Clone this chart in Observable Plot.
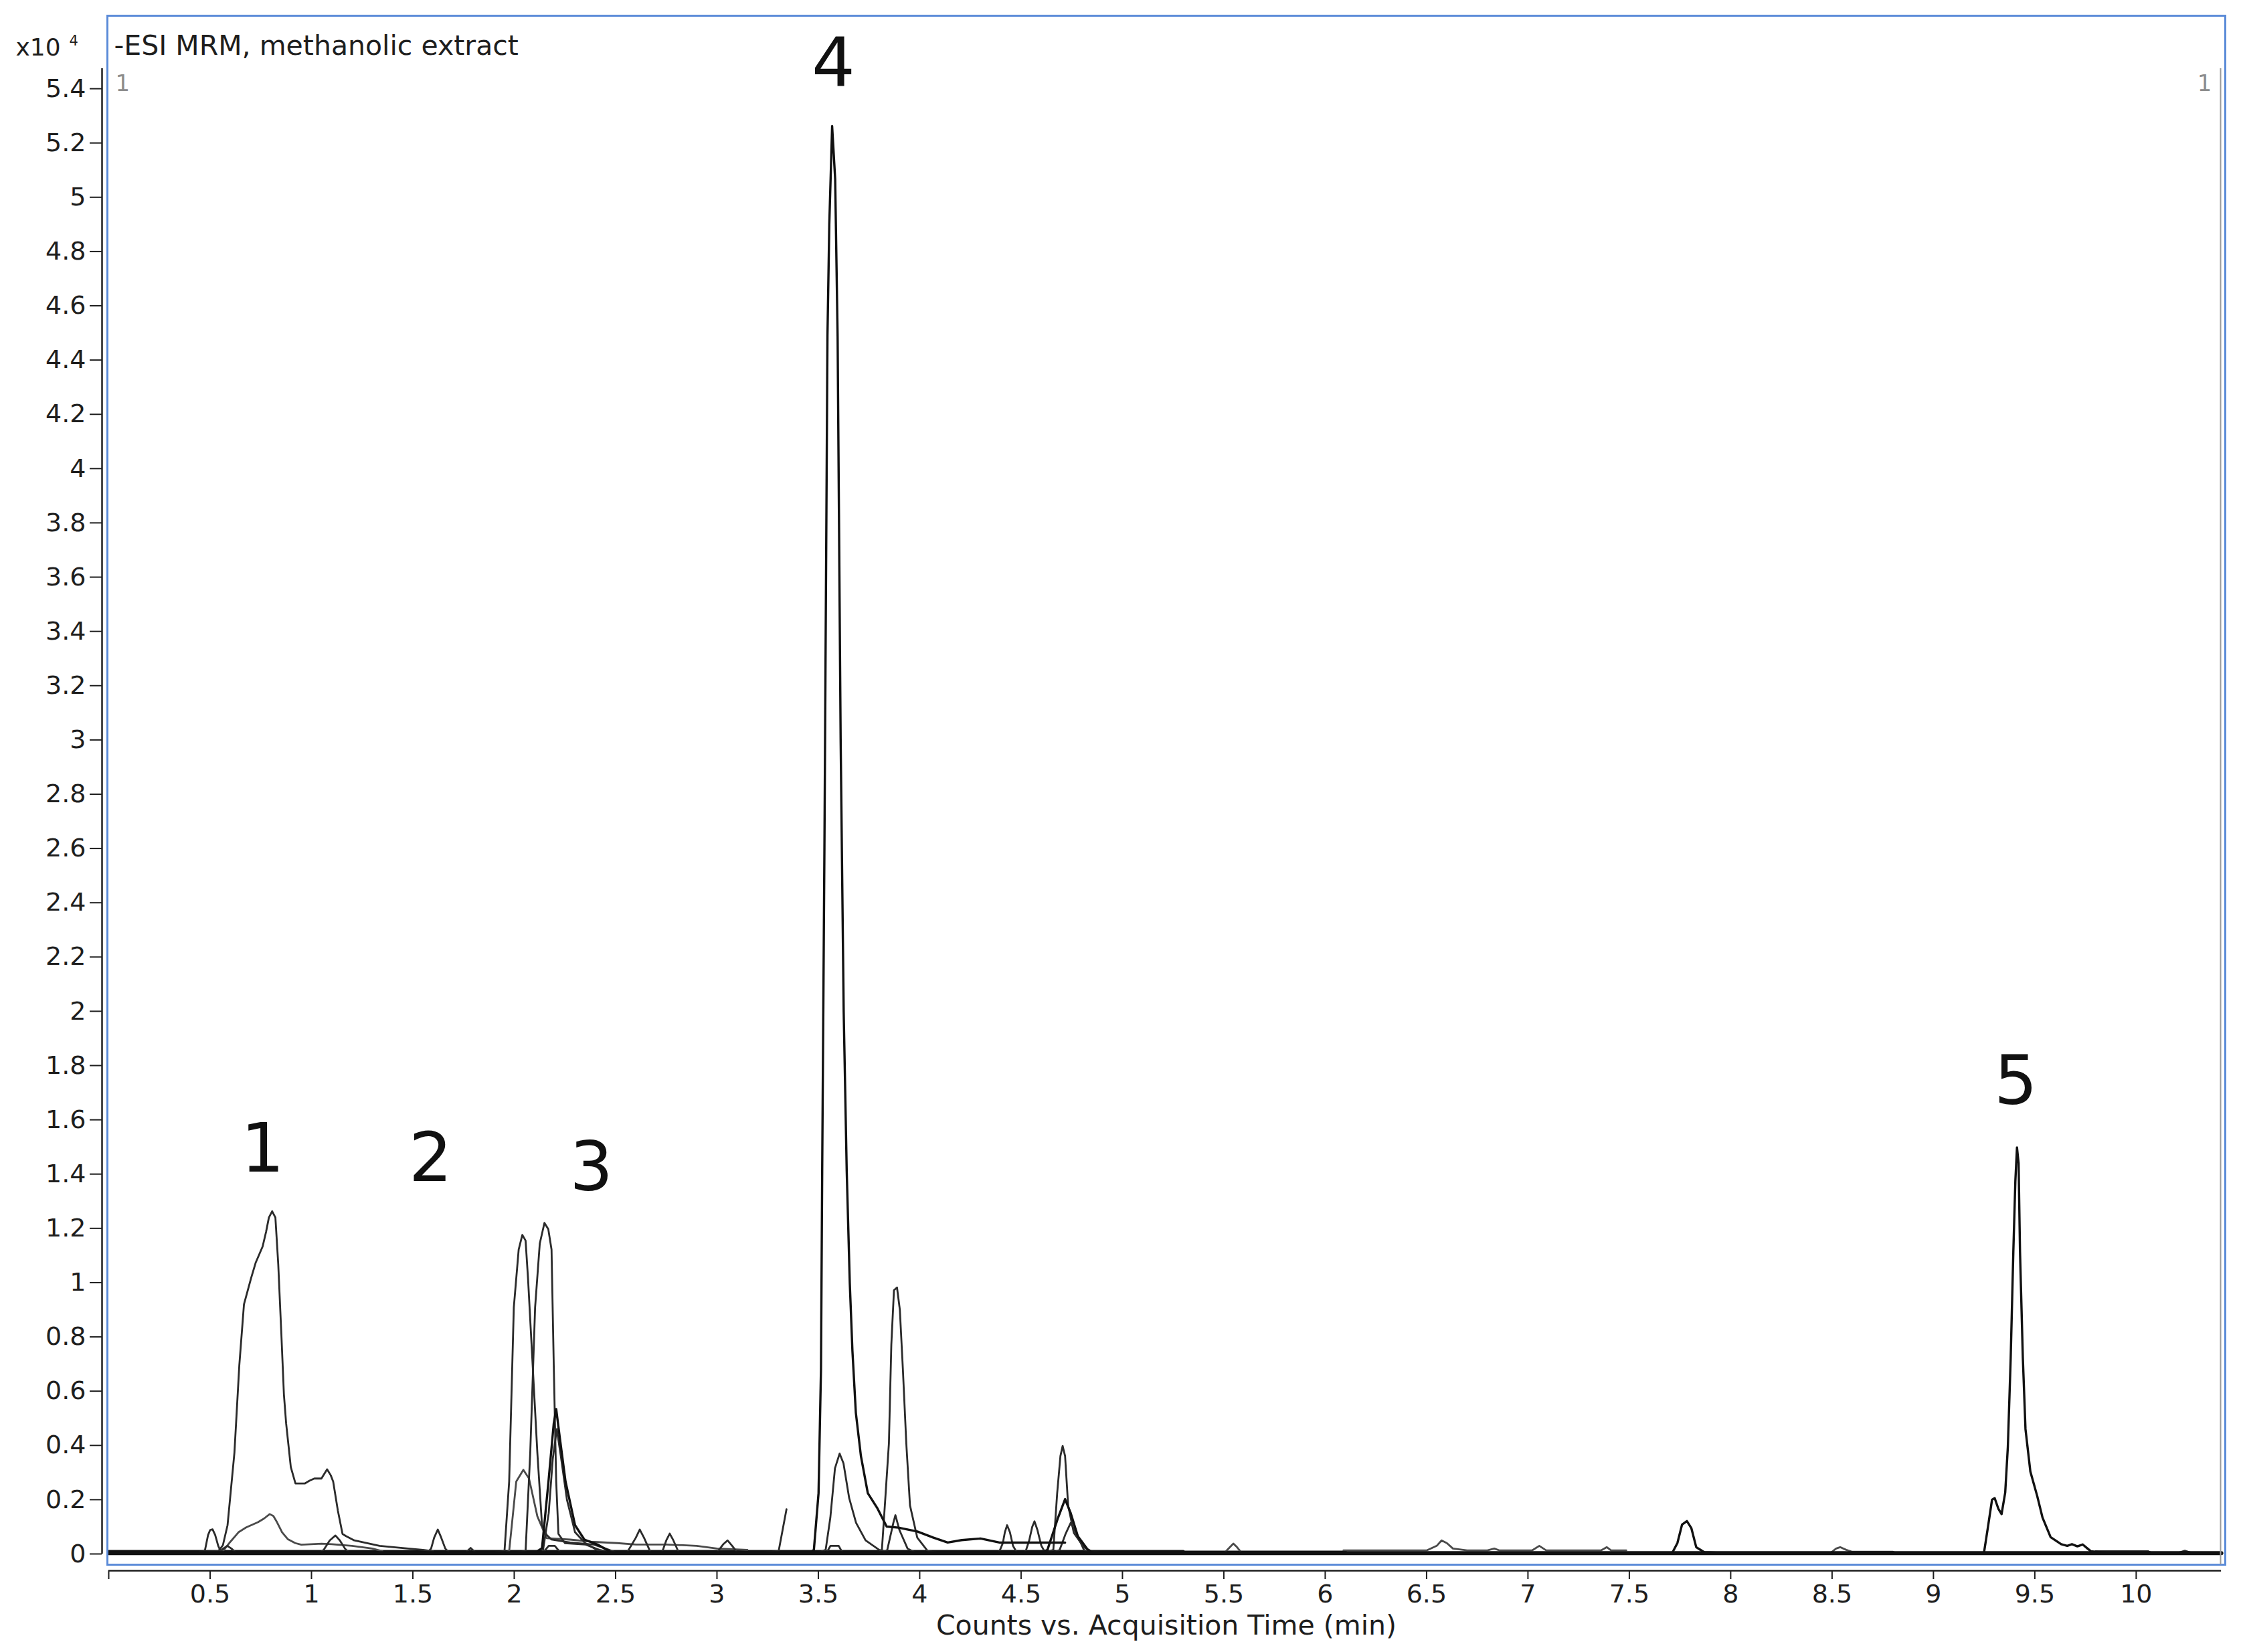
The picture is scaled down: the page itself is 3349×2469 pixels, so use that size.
<!DOCTYPE html>
<html>
<head>
<meta charset="utf-8">
<script src="https://cdn.jsdelivr.net/npm/d3@7"></script>
<script src="https://cdn.jsdelivr.net/npm/@observablehq/plot@0.6"></script>
<style>
  html, body { margin: 0; padding: 0; background: #fff; }
  #chart { position: absolute; left: 0; top: 0; }
</style>
</head>
<body>
<div id="chart"></div>
<script>
// ---------- tick values and labels ----------
const xTicks = [0, 0.5, 1, 1.5, 2, 2.5, 3, 3.5, 4, 4.5, 5, 5.5, 6, 6.5, 7, 7.5, 8, 8.5, 9, 9.5, 10];
const xTickLabels = ["", "0.5", "1", "1.5", "2", "2.5", "3", "3.5", "4", "4.5", "5", "5.5", "6", "6.5", "7", "7.5", "8", "8.5", "9", "9.5", "10"];
const yTicks = [0, 0.2, 0.4, 0.6, 0.8, 1, 1.2, 1.4, 1.6, 1.8, 2, 2.2, 2.4, 2.6, 2.8, 3, 3.2, 3.4, 3.6, 3.8, 4, 4.2, 4.4, 4.6, 4.8, 5, 5.2, 5.4];
const yTickLabels = ["0", "0.2", "0.4", "0.6", "0.8", "1", "1.2", "1.4", "1.6", "1.8", "2", "2.2", "2.4", "2.6", "2.8", "3", "3.2", "3.4", "3.6", "3.8", "4", "4.2", "4.4", "4.6", "4.8", "5", "5.2", "5.4"];

// ---------- texts ----------
const titleText = ["-ESI MRM, methanolic extract"];
const xAxisTitle = ["Counts vs. Acquisition Time (min)"];
const yUnitText = ["x10"];
const yUnitExp = ["4"];
const peakLabelText = ["1", "2", "3", "4", "5"];
const peakLabelX = [0.759, 1.587, 2.38, 3.574, 9.406];
const peakLabelY = [1.489, 1.455, 1.42, 5.489, 1.738];

// ---------- traces: [time (min), counts (x10^4)] ----------
const baseMain = [[0, 0.003], [10.42, 0.003]];
const baseA = [[0, 0.009], [5.3, 0.009]];
const baseB = [[5.3, 0.007], [6.1, 0.007]];
const baseC = [[6.09, 0.013], [6.5, 0.013], [6.55, 0.03], [6.574, 0.05], [6.6, 0.04], [6.63, 0.02], [6.7, 0.013], [6.8, 0.013], [6.834, 0.02], [6.86, 0.013], [7.02, 0.013], [7.056, 0.03], [7.09, 0.013], [7.36, 0.013], [7.389, 0.025], [7.41, 0.013], [7.485, 0.013]];
const baseD = [[9.8, 0.01], [10.06, 0.01], [10.08, 0.002], [10.2, 0.002], [10.24, 0.012], [10.28, 0.002], [10.42, 0.002]];

const peak1Main = [[0.45, 0.008], [0.54, 0.01], [0.563, 0.032], [0.586, 0.106], [0.62, 0.374], [0.644, 0.695], [0.667, 0.92], [0.702, 1.016], [0.725, 1.074], [0.759, 1.133], [0.776, 1.187], [0.79, 1.24], [0.806, 1.263], [0.822, 1.24], [0.836, 1.069], [0.852, 0.8], [0.864, 0.588], [0.875, 0.481], [0.898, 0.32], [0.921, 0.26], [0.968, 0.26], [0.99, 0.27], [1.014, 0.278], [1.049, 0.278], [1.077, 0.312], [1.095, 0.29], [1.107, 0.267], [1.13, 0.16], [1.153, 0.074], [1.17, 0.066], [1.211, 0.05], [1.336, 0.03], [1.45, 0.022], [1.55, 0.015], [1.6, 0.01]];
const peak1Minor = [[0.5, 0.005], [0.565, 0.012], [0.6, 0.045], [0.64, 0.08], [0.678, 0.098], [0.708, 0.108], [0.736, 0.117], [0.765, 0.13], [0.794, 0.147], [0.812, 0.14], [0.83, 0.117], [0.855, 0.08], [0.884, 0.054], [0.92, 0.04], [0.95, 0.034], [1.0, 0.036], [1.05, 0.038], [1.1, 0.036], [1.2, 0.03], [1.3, 0.02], [1.35, 0.01]];
const bump051 = [[0.46, 0.005], [0.475, 0.015], [0.49, 0.07], [0.5, 0.088], [0.512, 0.091], [0.525, 0.07], [0.54, 0.03], [0.551, 0.012], [0.57, 0.005]];
const bump058 = [[0.54, 0.003], [0.565, 0.02], [0.585, 0.03], [0.605, 0.02], [0.63, 0.003]];
const bump112 = [[1.04, 0.004], [1.06, 0.015], [1.09, 0.05], [1.118, 0.068], [1.14, 0.05], [1.165, 0.02], [1.185, 0.005]];
const bump162 = [[1.57, 0.004], [1.59, 0.02], [1.605, 0.06], [1.623, 0.09], [1.64, 0.06], [1.66, 0.02], [1.68, 0.004]];
const bump179 = [[1.76, 0.004], [1.785, 0.022], [1.81, 0.004]];

const peak204 = [[1.9, 0.005], [1.952, 0.01], [1.975, 0.267], [1.998, 0.909], [2.022, 1.122], [2.04, 1.176], [2.056, 1.155], [2.068, 1.016], [2.091, 0.695], [2.114, 0.374], [2.137, 0.106], [2.16, 0.07], [2.184, 0.053], [2.276, 0.042], [2.39, 0.035], [2.45, 0.02], [2.5, 0.006]];
const peak215 = [[2.0, 0.004], [2.056, 0.01], [2.079, 0.374], [2.103, 0.909], [2.126, 1.144], [2.149, 1.22], [2.168, 1.197], [2.184, 1.122], [2.195, 0.695], [2.207, 0.267], [2.218, 0.074], [2.25, 0.04], [2.35, 0.035], [2.42, 0.015], [2.48, 0.005]];
const peak221a = [[2.1, 0.004], [2.137, 0.021], [2.169, 0.267], [2.195, 0.481], [2.207, 0.534], [2.225, 0.427], [2.253, 0.267], [2.3, 0.106], [2.346, 0.053], [2.41, 0.035], [2.47, 0.01]];
const peak221b = [[2.14, 0.004], [2.17, 0.15], [2.19, 0.35], [2.21, 0.46], [2.23, 0.36], [2.26, 0.2], [2.3, 0.08], [2.35, 0.04], [2.42, 0.01]];
const peak205s = [[1.95, 0.004], [1.975, 0.01], [1.99, 0.12], [2.01, 0.267], [2.045, 0.31], [2.073, 0.278], [2.114, 0.139], [2.16, 0.058], [2.276, 0.053], [2.38, 0.045], [2.508, 0.04], [2.6, 0.035], [2.75, 0.035], [2.9, 0.03], [3.0, 0.02], [3.15, 0.015]];
const bump218 = [[2.14, 0.003], [2.17, 0.03], [2.2, 0.03], [2.23, 0.003]];
const bump262 = [[2.56, 0.01], [2.6, 0.06], [2.619, 0.09], [2.64, 0.06], [2.67, 0.01]];
const bump277 = [[2.73, 0.008], [2.75, 0.05], [2.767, 0.075], [2.785, 0.05], [2.81, 0.008]];
const bump305 = [[3.0, 0.005], [3.03, 0.035], [3.052, 0.05], [3.075, 0.03], [3.1, 0.005]];
const spike334 = [[3.2, 0.003], [3.304, 0.01], [3.343, 0.165]];

const peak4Main = [[3.3, 0.003], [3.46, 0.005], [3.478, 0.015], [3.501, 0.224], [3.513, 0.68], [3.519, 1.41], [3.53, 2.6], [3.545, 4.49], [3.554, 4.9], [3.568, 5.262], [3.583, 5.067], [3.595, 4.49], [3.61, 3.0], [3.625, 2.0], [3.64, 1.41], [3.655, 1.0], [3.668, 0.75], [3.685, 0.52], [3.71, 0.361], [3.744, 0.224], [3.79, 0.17], [3.837, 0.101], [3.895, 0.097], [3.988, 0.083], [4.068, 0.06], [4.138, 0.042], [4.207, 0.051], [4.3, 0.057], [4.393, 0.042], [4.717, 0.042]];
const peak361 = [[3.5, 0.004], [3.536, 0.015], [3.559, 0.133], [3.582, 0.316], [3.605, 0.37], [3.624, 0.334], [3.652, 0.206], [3.686, 0.115], [3.733, 0.05], [3.8, 0.015], [3.85, 0.005]];
const bump358 = [[3.54, 0.004], [3.56, 0.03], [3.6, 0.03], [3.62, 0.004]];
const peak389 = [[3.78, 0.004], [3.813, 0.01], [3.832, 0.224], [3.848, 0.407], [3.86, 0.772], [3.873, 0.972], [3.888, 0.982], [3.902, 0.9], [3.917, 0.68], [3.934, 0.405], [3.952, 0.179], [3.988, 0.06], [4.04, 0.01], [4.1, 0.004]];
const peak388s = [[3.82, 0.004], [3.84, 0.015], [3.87, 0.115], [3.88, 0.143], [3.9, 0.088], [3.94, 0.02], [3.98, 0.004]];
const bump443 = [[4.39, 0.004], [4.41, 0.04], [4.42, 0.08], [4.431, 0.106], [4.445, 0.08], [4.46, 0.03], [4.48, 0.004]];
const bump457 = [[4.52, 0.004], [4.54, 0.05], [4.555, 0.1], [4.566, 0.12], [4.58, 0.09], [4.6, 0.03], [4.62, 0.004]];
const peak470a = [[4.62, 0.004], [4.659, 0.015], [4.678, 0.224], [4.694, 0.361], [4.705, 0.398], [4.717, 0.361], [4.732, 0.179], [4.76, 0.078], [4.81, 0.025], [4.85, 0.008], [4.9, 0.004]];
const peak470b = [[4.6, 0.004], [4.63, 0.015], [4.682, 0.133], [4.717, 0.202], [4.745, 0.15], [4.78, 0.065], [4.83, 0.015], [4.86, 0.004]];
const peak474 = [[4.66, 0.004], [4.69, 0.015], [4.72, 0.075], [4.745, 0.115], [4.78, 0.065], [4.81, 0.015], [4.84, 0.004]];

const bump555 = [[5.5, 0.002], [5.53, 0.025], [5.547, 0.038], [5.565, 0.025], [5.59, 0.002]];
const peak778 = [[7.6, 0.003], [7.711, 0.003], [7.737, 0.04], [7.76, 0.108], [7.784, 0.121], [7.806, 0.095], [7.83, 0.025], [7.87, 0.006], [7.95, 0.004]];
const bump854 = [[8.49, 0.002], [8.52, 0.02], [8.54, 0.025], [8.57, 0.015], [8.6, 0.008], [8.8, 0.008], [8.82, 0.002]];
const peak5 = [[9.1, 0.002], [9.249, 0.003], [9.268, 0.095], [9.289, 0.2], [9.302, 0.206], [9.32, 0.167], [9.336, 0.147], [9.354, 0.226], [9.367, 0.395], [9.381, 0.721], [9.394, 1.113], [9.404, 1.374], [9.412, 1.498], [9.42, 1.44], [9.427, 1.113], [9.441, 0.721], [9.454, 0.46], [9.478, 0.304], [9.512, 0.213], [9.538, 0.134], [9.578, 0.062], [9.63, 0.036], [9.66, 0.03], [9.683, 0.036], [9.71, 0.028], [9.736, 0.035], [9.76, 0.02], [9.776, 0.01], [9.86, 0.004], [10.06, 0.004]];

// ---------- trace list and styles (kept apart from the values) ----------
const traces = [
  ["baseA", baseA], ["baseB", baseB], ["baseC", baseC], ["baseD", baseD],
  ["peak1Minor", peak1Minor], ["bump051", bump051], ["bump058", bump058], ["bump112", bump112],
  ["bump162", bump162], ["bump179", bump179], ["peak205s", peak205s], ["bump218", bump218],
  ["bump262", bump262], ["bump277", bump277], ["bump305", bump305], ["spike334", spike334],
  ["peak361", peak361], ["bump358", bump358], ["peak388s", peak388s], ["bump443", bump443],
  ["bump457", bump457], ["peak474", peak474], ["bump555", bump555], ["bump854", bump854],
  ["peak1Main", peak1Main], ["peak204", peak204], ["peak215", peak215], ["peak221b", peak221b],
  ["peak221a", peak221a], ["peak389", peak389], ["peak470a", peak470a], ["peak470b", peak470b],
  ["peak778", peak778], ["peak5", peak5], ["peak4Main", peak4Main], ["baseMain", baseMain]
];
const darkTraces = new Set(["baseMain", "peak4Main", "peak221a", "peak470b", "peak5", "peak778", "baseA", "baseB"]);
const grayTraces = new Set(["baseC", "peak205s", "peak1Minor", "bump555", "bump854"]);
function strokeOf(name) { return darkTraces.has(name) ? "#111" : grayTraces.has(name) ? "#4a4a4a" : "#2b2b2b"; }
function widthOf(name) {
  if (name === "baseMain") return 6;
  if (name === "baseA" || name === "baseB") return 4.5;
  return darkTraces.has(name) ? 3.4 : 2.8;
}

// ---------- scale geometry ----------
const W = 3349, H = 2469;
const xDomain = [-0.0066, 10.4394];
const yDomain = [-0.0395, 5.669];
const yAxisTop = 5.474;
const xAxisEnd = 10.42;

const lineMarks = traces.map(([name, pts]) => Plot.line(pts, {
  x: d => d[0], y: d => d[1],
  stroke: strokeOf(name), strokeWidth: widthOf(name),
  strokeLinejoin: "round", strokeLinecap: "round"
}));

const chart = Plot.plot({
  width: W, height: H,
  marginLeft: 160, marginRight: 24, marginTop: 23, marginBottom: 131,
  style: { fontFamily: "'DejaVu Sans', sans-serif", background: "#fff", color: "#1e1e1e" },
  x: { domain: xDomain, label: null },
  y: { domain: yDomain, label: null },
  marks: [
    ...lineMarks,
    Plot.frame({ stroke: "#5b8bd8", strokeWidth: 3 }),
    // y axis line and right-hand gray line
    Plot.ruleX([xDomain[0]], { y1: 0, y2: yAxisTop, dx: -8, stroke: "#1e1e1e", strokeWidth: 2.5 }),
    Plot.ruleX([xDomain[1]], { y1: yDomain[0], y2: yAxisTop, dx: -7, stroke: "#9a9a9a", strokeWidth: 2 }),
    // x axis line
    Plot.ruleY([yDomain[0]], { x1: 0, x2: xAxisEnd, dy: 9, stroke: "#1e1e1e", strokeWidth: 2.5 }),
    Plot.axisX(xTicks, {
      anchor: "bottom", tickSize: 13, tickPadding: 8, dy: 9, fontSize: 38, label: null,
      tickFormat: d => xTickLabels[xTicks.indexOf(d)], strokeWidth: 2
    }),
    Plot.axisY(yTicks, {
      anchor: "left", tickSize: 18, tickPadding: 6, dx: -8, fontSize: 38, label: null,
      tickFormat: d => yTickLabels[yTicks.indexOf(d)], strokeWidth: 2
    }),
    // texts
    Plot.text(titleText, { text: d => d, frameAnchor: "top-left", textAnchor: "start", lineAnchor: "middle", dx: 10, dy: 45, fontSize: 41, fill: "#1e1e1e" }),
    Plot.text(yUnitText, { text: d => d, frameAnchor: "top-left", textAnchor: "start", lineAnchor: "middle", dx: -137, dy: 48, fontSize: 36, fill: "#1e1e1e" }),
    Plot.text(yUnitExp, { text: d => d, frameAnchor: "top-left", textAnchor: "start", lineAnchor: "middle", dx: -57, dy: 38, fontSize: 21, fill: "#1e1e1e" }),
    Plot.text(["1"], { text: d => d, frameAnchor: "top-left", textAnchor: "start", lineAnchor: "middle", dx: 12, dy: 102, fontSize: 34, fill: "#8c8c8c" }),
    Plot.text(["1"], { text: d => d, frameAnchor: "top-right", textAnchor: "end", lineAnchor: "middle", dx: -20, dy: 102, fontSize: 34, fill: "#8c8c8c" }),
    Plot.text(xAxisTitle, { text: d => d, frameAnchor: "bottom", textAnchor: "middle", lineAnchor: "middle", dy: 91, fontSize: 41, fill: "#1e1e1e" }),
    Plot.text(peakLabelText, {
      x: (d, i) => peakLabelX[i], y: (d, i) => peakLabelY[i], text: d => d,
      fontSize: 102, lineAnchor: "middle", textAnchor: "middle", fill: "#111"
    })
  ]
});
document.getElementById("chart").appendChild(chart);
</script>
</body>
</html>
